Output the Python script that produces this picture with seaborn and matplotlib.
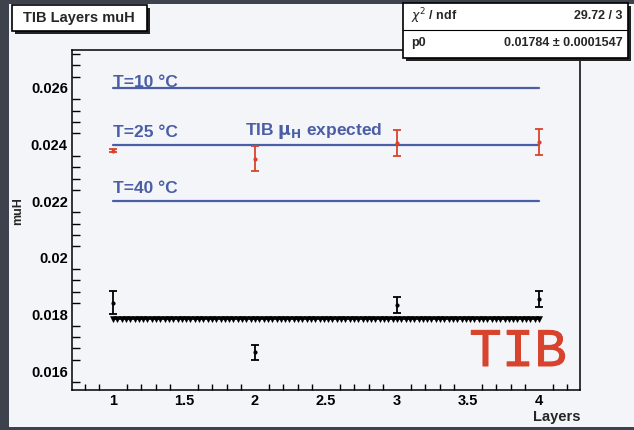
import numpy as np
import pandas as pd
import seaborn as sns
import matplotlib
matplotlib.use("Agg")
import matplotlib.pyplot as plt
import matplotlib.patheffects as pe
from matplotlib.patches import Rectangle
from matplotlib.ticker import MultipleLocator

# Measured Hall mobility per TIB layer and the expected values at 25 C
layers = [1, 2, 3, 4]
muh_measured = [0.01842, 0.01666, 0.01832, 0.01855]
muh_measured_err = [0.00040, 0.00027, 0.00028, 0.00028]
muh_expected = [0.02378, 0.02350, 0.02405, 0.02410]
muh_expected_err = [0.00005, 0.00044, 0.00046, 0.00046]

# Reference mobilities at different temperatures
temp_labels = ["T=10 °C", "T=25 °C", "T=40 °C"]
temp_values = [0.026, 0.024, 0.022]

# Constant fit result
fit_p0 = 0.01784
fit_p0_err = 0.0001547
fit_chi2 = 29.72
fit_ndf = 3

W, H = 634, 430
sns.set_theme(style="white")
plt.rcParams["font.family"] = ["Liberation Sans", "DejaVu Sans"]

pad_color = "#f3f5f8"
blue = "#4a5ea6"
red = "#d8432d"

fig = plt.figure(figsize=(W / 100, H / 100), dpi=100, facecolor="#3d424c")

def fx(px):
    return px / W

def fy(py):
    return 1 - py / H

# Light canvas pad inside the dark frame
fig.patches.append(Rectangle((fx(9), fy(427)), fx(W - 9), fy(4) - fy(427),
                             transform=fig.transFigure, facecolor=pad_color,
                             edgecolor="none", zorder=-5))

ax = fig.add_axes([fx(72), fy(390), fx(580) - fx(72), fy(50) - fy(390)])
ax.set_facecolor(pad_color)

# Temperature reference lines and their labels
label_offsets = [0.00005, 0.00028, 0.00028]
for lab, val, off in zip(temp_labels, temp_values, label_offsets):
    sns.lineplot(x=[layers[0], layers[-1]], y=[val, val], ax=ax, color=blue,
                 linewidth=1.6, zorder=2)
    ax.text(layers[0], val + off, lab, color=blue, fontsize=12.5,
            fontweight="bold", ha="left", va="baseline")
ax.text(1.93, temp_values[1] + 0.00035, r"TIB $\mathbf{\mu_{H}}$ expected",
        color=blue, fontsize=12.5, fontweight="bold", ha="left", va="baseline")

# Fitted constant drawn over the layer range
fit_x = np.linspace(layers[0], layers[-1], 100)
fit_df = pd.DataFrame({"layer": fit_x, "muH": np.full_like(fit_x, fit_p0)})
sns.lineplot(data=fit_df, x="layer", y="muH", ax=ax, color="black",
             linewidth=1.2, marker="v", markersize=4.0, markeredgewidth=0.4,
             markerfacecolor="black", markeredgecolor="black", zorder=3)

# Measured and expected points with error bars
ax.errorbar(layers, muh_expected, yerr=muh_expected_err, fmt="none",
            ecolor=red, elinewidth=1.3, capsize=3, capthick=1.3, zorder=4)
sns.scatterplot(x=layers, y=muh_expected, ax=ax, color=red, marker="o",
                s=9, linewidth=0, zorder=5)
ax.errorbar(layers, muh_measured, yerr=muh_measured_err, fmt="none",
            ecolor="black", elinewidth=1.3, capsize=3, capthick=1.3, zorder=4)
sns.scatterplot(x=layers, y=muh_measured, ax=ax, color="black", marker="o",
                s=9, linewidth=0, zorder=5)

ax.set_xlim(0.711, 4.289)
ax.set_ylim(0.01533, 0.02734)
ax.set_xticks([1, 1.5, 2, 2.5, 3, 3.5, 4])
ax.set_xticklabels(["1", "1.5", "2", "2.5", "3", "3.5", "4"])
ax.set_yticks([0.016, 0.018, 0.02, 0.022, 0.024, 0.026])
ax.set_yticklabels(["0.016", "0.018", "0.02", "0.022", "0.024", "0.026"])
ax.xaxis.set_minor_locator(MultipleLocator(0.1))
ax.yaxis.set_minor_locator(MultipleLocator(0.0004))
ax.tick_params(axis="both", which="both", direction="in", colors="black",
               labelsize=10.5, width=1.0)
ax.tick_params(axis="y", which="major", length=10, pad=3)
ax.tick_params(axis="y", which="minor", length=5.5, left=True)
ax.tick_params(axis="x", which="major", length=8, pad=3)
ax.tick_params(axis="x", which="minor", length=4, bottom=True)
for lbl in ax.get_xticklabels() + ax.get_yticklabels():
    lbl.set_fontweight("bold")
for sp in ax.spines.values():
    sp.set_visible(True)
    sp.set_color("black")
    sp.set_linewidth(1.1)
ax.set_xlabel("")
ax.set_ylabel("")

fig.text(fx(581), fy(417), "Layers", ha="right", va="center", fontsize=10.5,
         fontweight="bold")
fig.text(fx(18), fy(211), "muH", ha="center", va="center", rotation=90,
         fontsize=9, fontweight="bold")

# Large detector tag
fig.text(fx(518), fy(352), "TIB", color=red, fontsize=39,
         family=["Liberation Mono", "DejaVu Sans Mono"], ha="center",
         va="center",
         path_effects=[pe.withStroke(linewidth=0.7, foreground=red)])

def boxed(x0, y0, x1, y1, z=5):
    sh = 3
    fig.patches.append(Rectangle((fx(x0 + sh), fy(y1 + sh)), fx(x1 - x0),
                                 fy(y0) - fy(y1), transform=fig.transFigure,
                                 facecolor="#222222", edgecolor="none", zorder=z))
    fig.patches.append(Rectangle((fx(x0), fy(y1)), fx(x1 - x0), fy(y0) - fy(y1),
                                 transform=fig.transFigure, facecolor="white",
                                 edgecolor="black", linewidth=1.2, zorder=z + 1))

# Title box
boxed(12, 5, 147, 31)
fig.text(fx(79), fy(18), "TIB Layers muH", fontsize=10.5, fontweight="bold",
         va="center", ha="center", zorder=10)

# Fit statistics box
boxed(403, 3, 628, 58)
fig.lines.append(plt.Line2D([fx(403), fx(628)], [fy(30), fy(30)],
                            transform=fig.transFigure, color="black",
                            linewidth=0.8, zorder=8))
fig.text(fx(411), fy(16), r"$\chi^2$ / ndf", fontsize=9, fontweight="bold",
         va="center", ha="left", zorder=10)
fig.text(fx(623), fy(16), f"{fit_chi2:.2f} / {fit_ndf}", fontsize=9,
         fontweight="bold", va="center", ha="right", zorder=10)
fig.text(fx(411), fy(43), "p0", fontsize=9, fontweight="bold",
         va="center", ha="left", zorder=10)
fig.text(fx(623), fy(43), f"{fit_p0:.5f} ± {fit_p0_err:.7f}", fontsize=9,
         fontweight="bold", va="center", ha="right", zorder=10)

fig.savefig("out.png", dpi=100, facecolor=fig.get_facecolor())
